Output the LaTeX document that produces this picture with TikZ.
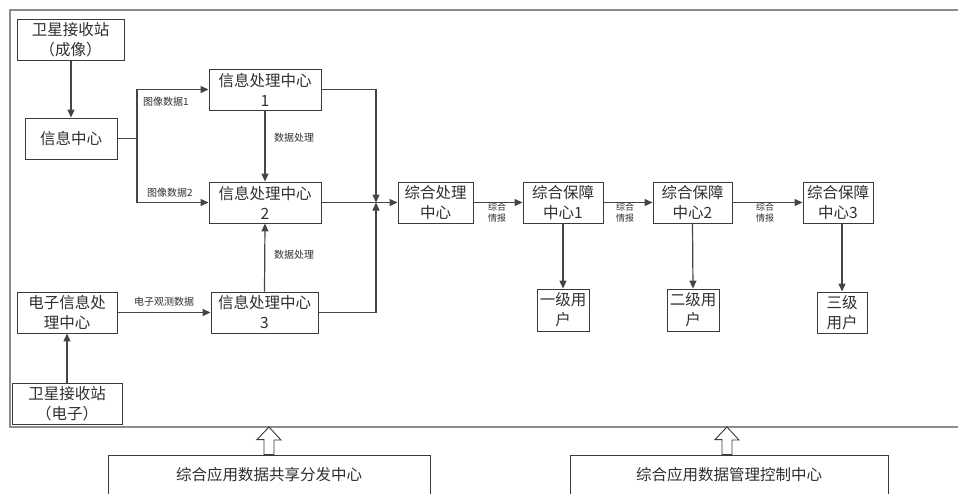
\documentclass[tikz,border=0pt]{standalone}
\usepackage{fontspec}
\setmainfont{Noto Sans CJK SC}
\usetikzlibrary{arrows.meta}
\definecolor{boxc}{HTML}{3A3A3A}
\definecolor{txtc}{HTML}{303030}
\definecolor{linec}{HTML}{454545}
\definecolor{framec}{HTML}{8C8C8C}
\tikzset{
  box/.style={draw=boxc, line width=0.9pt, align=center, inner sep=0pt, text=txtc,
    font=\fontsize{15.5}{20}\selectfont, minimum height=41pt},
  con/.style={draw=linec, line width=1.2pt},
  arr/.style={con, -{Triangle[length=8pt,width=7pt]}},
  lab/.style={inner sep=0pt, text=txtc, font=\fontsize{10}{12}\selectfont},
  lab2/.style={inner sep=0pt, text=txtc, align=center, font=\fontsize{9}{11}\selectfont},
  hollow/.style={draw=boxc, line width=0.9pt, fill=white},
}
\begin{document}
\begin{tikzpicture}[x=1pt,y=-1pt]
\useasboundingbox (0,0) rectangle (958,493);
\fill[white] (0,0) rectangle (958,493);
% outer frame (open to the right)
\draw[framec, line width=1.8pt] (958,10) -- (10,10) -- (10,427) -- (958,427);

% nodes
\node[box, minimum width=107pt] (sA) at (70.5,39.5) {卫星接收站\\（成像）};
\node[box, minimum width=92pt] (info) at (71,138.5) {信息中心};
\node[box, minimum width=112pt] (p1) at (265,89.5) {信息处理中心\\1};
\node[box, minimum width=112pt] (p2) at (265,202.5) {信息处理中心\\2};
\node[box, minimum width=107pt] (p3) at (264.5,312.5) {信息处理中心\\3};
\node[box, minimum width=100pt] (eip) at (67,312.5) {电子信息处\\理中心};
\node[box, minimum width=110pt] (sE) at (67,403.5) {卫星接收站\\（电子）};
\node[box, minimum width=75pt] (zc) at (435.5,202.5) {综合处理\\中心};
\node[box, minimum width=80pt] (g1) at (563,202.5) {综合保障\\中心1};
\node[box, minimum width=79pt] (g2) at (692.5,202.5) {综合保障\\中心2};
\node[box, minimum width=70pt] (g3) at (838,202.5) {综合保障\\中心3};
\node[box, minimum width=52pt, minimum height=42pt] (u1) at (563,310) {一级用\\户};
\node[box, minimum width=52pt, minimum height=42pt] (u2) at (693,310) {二级用\\户};
\node[box, minimum width=50pt] (u3) at (842,312.5) {三级\\用户};
\node[box, minimum width=322pt, minimum height=40pt] (b1) at (269,475) {综合应用数据共享分发中心};
\node[box, minimum width=318pt, minimum height=40pt] (b2) at (729,475) {综合应用数据管理控制中心};

% helper coordinates
\coordinate (fork) at (137,138.5);
\coordinate (J) at (376,202.5);
\coordinate (f1) at (269,427);
\coordinate (f2) at (727,427);

% connectors
\draw[arr] (sA.south -| info.north) -- (info.north);
\draw[con] (info.east) -- (fork);
\draw[arr] (fork) |- (p1.west);
\draw[arr] (fork) |- (p2.west);
\draw[arr] (p1.south) -- (p2.north);
\draw[arr] (p3.north) -- (p2.south);
\draw[arr] (eip.east) -- (p3.west);
\draw[arr] (sE.north) -- (eip.south);
\draw[arr] (p1.east) -| (J);
\draw[arr] (p3.east) -| (J);
\draw[arr] (p2.east) -- (zc.west);
\draw[arr] (zc.east) -- (g1.west);
\draw[arr] (g1.east) -- (g2.west);
\draw[arr] (g2.east) -- (g3.west);
\draw[arr] (g1.south) -- (u1.north);
\draw[arr] (g2.south) -- (u2.north);
\draw[arr] (g3.south -| u3.north) -- (u3.north);

% hollow arrows
\draw[hollow] (f1) -- ++(12,13) -- ++(-7,0) -- (b1.north -| 274,0) -- ++(-10,0) -- ++(0,-15) -- ++(-7,0) -- cycle;
\draw[hollow] (f2) -- ++(12,13) -- ++(-7,0) -- (b2.north -| 732,0) -- ++(-10,0) -- ++(0,-15) -- ++(-7,0) -- cycle;

% labels
\node[lab] (l1) at (166,102) {图像数据1};
\node[lab] (l2) at (170,193) {图像数据2};
\node[lab] (l3) at (294,138) {数据处理};
\node[lab] (l4) at (294,255) {数据处理};
\node[lab] (l5) at (164,302) {电子观测数据};
\node[lab2] (l6) at (497,213) {综合\\情报};
\node[lab2] (l7) at (625,213) {综合\\情报};
\node[lab2] (l8) at (765,213) {综合\\情报};
\end{tikzpicture}
\end{document}
